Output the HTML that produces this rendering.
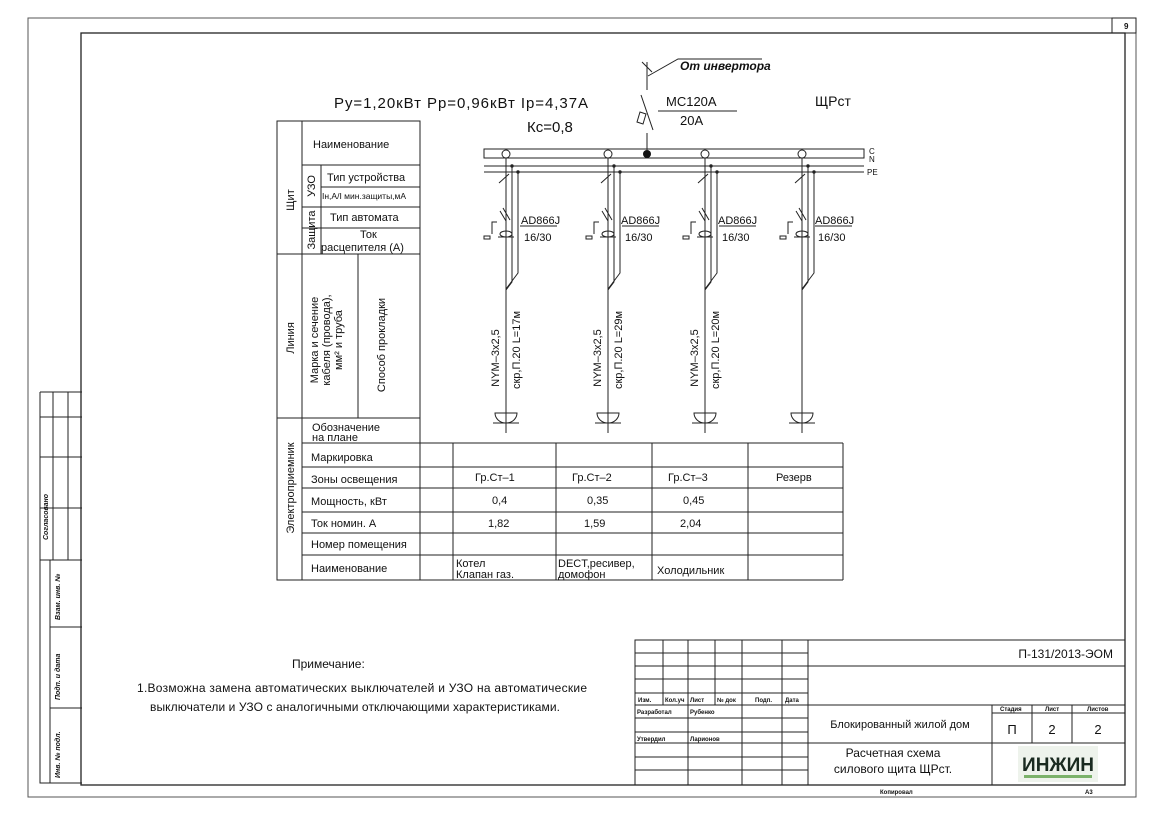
<!DOCTYPE html>
<html><head><meta charset="utf-8"><style>
html,body{margin:0;padding:0;background:#fff;}
svg{display:block;}
text{font-family:"Liberation Sans","Noto Sans CJK SC",sans-serif;fill:#111;}
</style></head><body>
<svg width="1166" height="816" viewBox="0 0 1166 816" xmlns="http://www.w3.org/2000/svg">
<g stroke="#222" fill="none" stroke-width="1">
<rect x="28" y="18" width="1108" height="779" stroke="#555"/>
<rect x="81" y="33" width="1044" height="752" stroke-width="1.3"/>
<rect x="1112" y="18" width="24" height="15"/>
<path d="M40 392H82M40 392V783H82M53 392V560M68 392V560M40 417H82M40 457H82M40 508H82M40 560H82M50 560V783M50 627H82M50 708H82"/>
<rect x="277" y="121" width="143" height="459"/>
<path d="M302 121V580M321 165V254M358 254V418M302 165H420M321 187H420M321 207H420M302 207H321M302 228H420M302 254H420M277 254H302M277 418H420M302 443H843M302 467H843M302 488H843M302 512H843M302 533H843M302 555H843M277 580H843M420 418V580M453 443V580M556 443V580M652 443V580M748 443V580M843 443V580"/>
<rect x="484" y="149" width="380" height="9"/>
<path d="M484 166H864M484 172H864"/>
<path d="M647 62V90M641 95L653 130M647 133V150M642 62L652 72M640 112l-3 10 6 2 3-10z"/>
<path d="M648 76L678 59H762M658 111H737"/>
</g>
<circle cx="647" cy="154" r="4" fill="#111"/>
<g stroke="#222" fill="none" stroke-width="1">
<g id="f">
<circle cx="506" cy="154" r="4" fill="#fff"/>
<path d="M506 158V433M512 166V282L506 290M518 172V273L506 289M499 183l10-9"/>
<circle cx="512" cy="166" r="1.2" fill="#222"/><circle cx="518" cy="172" r="1.2" fill="#222"/>
<path d="M500 211l6 10M503 208l7 12M497 222h-5v12M490 236h-6v3h6zM498 237h16M500 234a6 3 0 1 0 12 0a6 3 0 1 0 -12 0M495 413h22a11 10 0 0 1 -22 0zM493 423h26"/>
</g>
<use href="#f" x="102"/><use href="#f" x="199"/><use href="#f" x="296"/>
<path d="M520 226H557M622 226H659M719 226H756M815 226H852"/>
<rect x="635" y="640" width="490" height="145"/>
<path d="M635 653H808M635 666H1125M635 679H808M635 693H808M635 705H1125M635 718H808M635 732H808M635 743H1125M635 757H808M635 770H808M663 640V705M688 640V785M715 640V705M742 640V785M782 640V785M808 640V785M992 705V785M1032 705V743M1072 705V743M992 713H1125"/>
</g>
<text x="680" y="70" font-size="12" font-style="italic" font-weight="bold">От инвертора</text>
<text x="334" y="108" font-size="15" textLength="254" lengthAdjust="spacing">Ру=1,20кВт  Рр=0,96кВт  Iр=4,37А</text>
<text x="527" y="132" font-size="15">Кс=0,8</text>
<text x="666" y="106" font-size="13">МС120А</text>
<text x="680" y="125" font-size="13">20А</text>
<text x="815" y="106" font-size="14">ЩРст</text>
<text x="869" y="154" font-size="8">C</text><text x="869" y="162" font-size="8">N</text><text x="867" y="175" font-size="8">PE</text>
<g font-size="11">
<text x="313" y="148">Наименование</text>
<text x="327" y="181">Тип устройства</text>
<text x="322" y="199" font-size="8.5">Iн,А/I мин.защиты,мА</text>
<text x="330" y="221">Тип автомата</text>
<text x="360" y="238">Ток</text>
<text x="321" y="251">расцепителя (А)</text>
<text x="312" y="431">Обозначение</text><text x="312" y="441">на плане</text>
<text x="311" y="461">Маркировка</text>
<text x="311" y="483">Зоны освещения</text>
<text x="311" y="505">Мощность, кВт</text>
<text x="311" y="527">Ток номин. А</text>
<text x="311" y="548">Номер помещения</text>
<text x="311" y="572">Наименование</text>
<text x="475" y="481">Гр.Ст–1</text><text x="572" y="481">Гр.Ст–2</text><text x="668" y="481">Гр.Ст–3</text><text x="776" y="481">Резерв</text>
<text x="492" y="504">0,4</text><text x="587" y="504">0,35</text><text x="683" y="504">0,45</text>
<text x="488" y="527">1,82</text><text x="584" y="527">1,59</text><text x="680" y="527">2,04</text>
<text x="456" y="567">Котел</text><text x="456" y="578">Клапан газ.</text>
<text x="558" y="567">DECT,ресивер,</text><text x="558" y="578">домофон</text>
<text x="657" y="574">Холодильник</text>
<text x="521" y="224">AD866J</text><text x="524" y="241">16/30</text>
<text x="621" y="224">AD866J</text><text x="625" y="241">16/30</text>
<text x="718" y="224">AD866J</text><text x="722" y="241">16/30</text>
<text x="815" y="224">AD866J</text><text x="818" y="241">16/30</text>
</g>
<g font-size="11">
<text transform="translate(294,200) rotate(-90)" text-anchor="middle">Щит</text>
<text transform="translate(315,186) rotate(-90)" text-anchor="middle">УЗО</text>
<text transform="translate(315,230) rotate(-90)" text-anchor="middle">Защита</text>
<text transform="translate(294,338) rotate(-90)" text-anchor="middle">Линия</text>
<text transform="translate(318,340) rotate(-90)" text-anchor="middle">Марка и сечение</text>
<text transform="translate(330,340) rotate(-90)" text-anchor="middle">кабеля (провода),</text>
<text transform="translate(342,340) rotate(-90)" text-anchor="middle">мм² и труба</text>
<text transform="translate(385,345) rotate(-90)" text-anchor="middle">Способ прокладки</text>
<text transform="translate(294,488) rotate(-90)" text-anchor="middle">Электроприемник</text>
<text transform="translate(499,358) rotate(-90)" text-anchor="middle">NYM–3x2,5</text>
<text transform="translate(520,350) rotate(-90)" text-anchor="middle">скр,П.20  L=17м</text>
<text transform="translate(601,358) rotate(-90)" text-anchor="middle">NYM–3x2,5</text>
<text transform="translate(622,350) rotate(-90)" text-anchor="middle">скр,П.20  L=29м</text>
<text transform="translate(698,358) rotate(-90)" text-anchor="middle">NYM–3x2,5</text>
<text transform="translate(719,350) rotate(-90)" text-anchor="middle">скр,П.20  L=20м</text>
</g>
<g font-size="7" font-style="italic" font-weight="bold">
<text transform="translate(48,540) rotate(-90)">Согласовано</text>
<text transform="translate(60,620) rotate(-90)">Взам. инв. №</text>
<text transform="translate(60,700) rotate(-90)">Подп. и дата</text>
<text transform="translate(60,778) rotate(-90)">Инв. № подл.</text>
</g>
<text x="1124" y="29" font-size="8" font-weight="bold">9</text>
<g font-size="12">
<text x="292" y="668">Примечание:</text>
<text x="137" y="692" textLength="450" lengthAdjust="spacing">1.Возможна замена автоматических выключателей и УЗО на автоматические</text>
<text x="150" y="711" textLength="410" lengthAdjust="spacing">выключатели и УЗО с аналогичными отключающими характеристиками.</text>
</g>
<g font-size="6" font-weight="bold">
<text x="638" y="702">Изм.</text><text x="665" y="702">Кол.уч</text><text x="690" y="702">Лист</text><text x="717" y="702">№ док</text><text x="755" y="702">Подп.</text><text x="785" y="702">Дата</text>
<text x="637" y="714">Разработал</text><text x="690" y="714">Рубенко</text>
<text x="637" y="741">Утвердил</text><text x="690" y="741">Ларионов</text>
<text x="1000" y="711">Стадия</text><text x="1045" y="711">Лист</text><text x="1087" y="711">Листов</text>
<text x="880" y="794">Копировал</text><text x="1085" y="794">А3</text>
</g>
<text x="1113" y="658" font-size="12" text-anchor="end">П-131/2013-ЭОМ</text>
<text x="900" y="728" font-size="11" text-anchor="middle">Блокированный жилой дом</text>
<text x="1012" y="734" font-size="13" text-anchor="middle">П</text>
<text x="1052" y="734" font-size="13" text-anchor="middle">2</text>
<text x="1098" y="734" font-size="13" text-anchor="middle">2</text>
<text x="893" y="757" font-size="12" text-anchor="middle">Расчетная схема</text>
<text x="893" y="773" font-size="12" text-anchor="middle">силового щита ЩРст.</text>
<rect x="1018" y="746" width="80" height="36" fill="#eef3ec"/>
<text x="1058" y="771" font-size="19" font-weight="bold" text-anchor="middle" style="fill:#1a2a20">ИНЖИН</text>
<rect x="1024" y="775" width="68" height="3" fill="#7bb26a"/>
</svg>
</body></html>
